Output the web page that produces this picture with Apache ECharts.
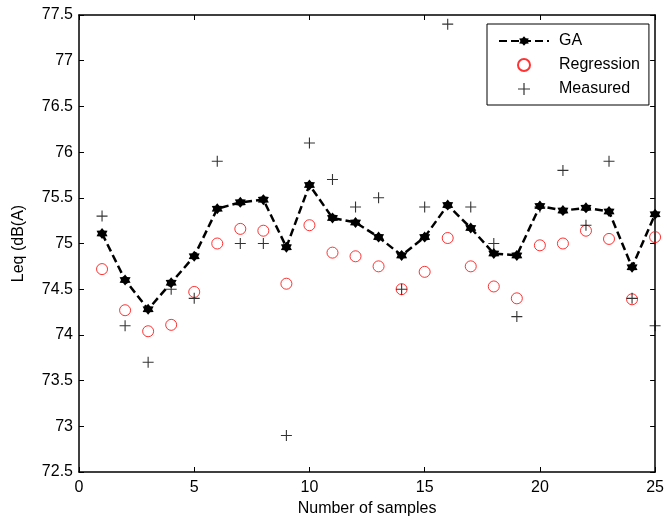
<!DOCTYPE html>
<html>
<head>
<meta charset="utf-8">
<script src="https://cdn.jsdelivr.net/npm/echarts@6/dist/echarts.min.js"></script>
<style>html,body{margin:0;padding:0;background:#fff;}#c{width:667px;height:525px;}</style>
</head>
<body>
<div id="c"></div>
<script>
const samples = [1,2,3,4,5,6,7,8,9,10,11,12,13,14,15,16,17,18,19,20,21,22,23,24,25];
const gaValues = [75.11,74.60,74.28,74.57,74.86,75.38,75.45,75.48,74.96,75.64,75.28,75.23,75.07,74.87,75.07,75.42,75.17,74.89,74.87,75.41,75.36,75.39,75.35,74.74,75.32];
const regressionValues = [74.72,74.27,74.04,74.11,74.47,75.00,75.16,75.14,74.56,75.20,74.90,74.86,74.75,74.50,74.69,75.06,74.75,74.53,74.40,74.98,75.00,75.14,75.05,74.39,75.07];
const measuredValues = [75.3,74.1,73.7,74.5,74.4,75.9,75.0,75.0,72.9,76.1,75.7,75.4,75.5,74.5,75.4,77.4,75.4,75.0,74.2,75.4,75.8,75.2,75.9,74.4,74.1];
const xTicks = [0,5,10,15,20,25];
const yTicks = [72.5,73,73.5,74,74.5,75,75.5,76,76.5,77,77.5];

const FONT = "'Liberation Sans', Arial, sans-serif";
const pair = (xs, ys) => xs.map((x, i) => [x, ys[i]]);
const hexagram = 'path://M50,0L66,22.3L93.3,25L82,50L93.3,75L66,77.7L50,100L34,77.7L6.7,75L18,50L6.7,25L34,22.3Z';
const plus = 'path://M4.5,0H5.5V4.5H10V5.5H5.5V10H4.5V5.5H0V4.5H4.5Z';

const axisCommon = {
  axisLine: {show: true, onZero: false, lineStyle: {color: '#000', width: 1.5}},
  axisTick: {show: true, inside: true, length: 5, lineStyle: {color: '#000', width: 1}},
  splitLine: {show: false}
};

const chart = echarts.init(document.getElementById('c'), null, {renderer: 'canvas'});
chart.setOption({
  animation: false,
  backgroundColor: '#fff',
  grid: {left: 79, right: 9, top: 15, bottom: 53},
  xAxis: [
    Object.assign({
      type: 'value', min: xTicks[0], max: xTicks[xTicks.length-1], interval: 5, position: 'bottom',
      name: 'Number of samples', nameLocation: 'middle', nameGap: 26,
      nameTextStyle: {color: '#000', fontSize: 16, fontFamily: FONT},
      axisLabel: {color: '#000', fontSize: 16, fontFamily: FONT, margin: 8}
    }, axisCommon),
    Object.assign({
      type: 'value', min: xTicks[0], max: xTicks[xTicks.length-1], interval: 5, position: 'top',
      axisLabel: {show: false}
    }, axisCommon)
  ],
  yAxis: [
    Object.assign({
      type: 'value', min: yTicks[0], max: yTicks[yTicks.length-1], interval: 0.5, position: 'left',
      name: 'Leq (dB(A)', nameLocation: 'middle', nameGap: 52,
      nameTextStyle: {color: '#000', fontSize: 16, fontFamily: FONT},
      axisLabel: {color: '#000', fontSize: 16, fontFamily: FONT, margin: 6,
        formatter: v => String(Math.round(v*10)/10)}
    }, axisCommon),
    Object.assign({
      type: 'value', min: yTicks[0], max: yTicks[yTicks.length-1], interval: 0.5, position: 'right',
      axisLabel: {show: false}
    }, axisCommon)
  ],
  legend: {
    orient: 'vertical', left: 487, top: 24,
    padding: [9, 9, 8, 11], itemGap: 8, itemWidth: 50, itemHeight: 12,
    backgroundColor: '#fff', borderColor: '#000', borderWidth: 1, borderRadius: 0,
    textStyle: {color: '#000', fontSize: 16, fontFamily: FONT, padding: [0,0,0,5]},
    data: ['GA', 'Regression', 'Measured']
  },
  series: [
    {
      name: 'GA', type: 'line', data: pair(samples, gaValues),
      symbol: hexagram, symbolSize: 11, showSymbol: true,
      lineStyle: {color: '#000', width: 2.5, type: [8, 4]},
      itemStyle: {color: '#000'}, z: 3
    },
    {
      name: 'Regression', type: 'scatter', data: pair(samples, regressionValues),
      symbol: 'circle', symbolSize: 11,
      itemStyle: {color: 'rgba(0,0,0,0)', borderColor: '#ff0000', borderWidth: 1}, z: 4
    },
    {
      name: 'Measured', type: 'scatter', data: pair(samples, measuredValues),
      symbol: plus, symbolSize: 11,
      itemStyle: {color: '#000'}, z: 5
    }
  ]
});
</script>
</body>
</html>
